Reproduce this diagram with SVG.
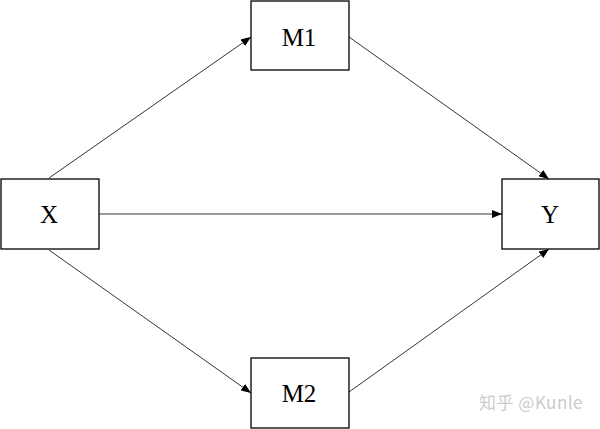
<svg xmlns="http://www.w3.org/2000/svg" width="600" height="429" viewBox="0 0 600 429">
<style>
.box{fill:#fff;stroke:#000;stroke-width:1.3}
.lbl{font-family:"Liberation Serif","Times New Roman",serif;font-size:25px;fill:#000;text-anchor:middle;dominant-baseline:central}
.edge{stroke:#000;stroke-width:0.8;fill:none;marker-end:url(#ah)}
.wm{font-family:"Noto Sans CJK SC","Noto Sans",sans-serif;font-size:17px;fill:#cbcbcb;letter-spacing:0.5px}
</style>
<defs>
<marker id="ah" viewBox="0 0 10 8" refX="10" refY="4" markerWidth="10" markerHeight="8" markerUnits="userSpaceOnUse" orient="auto">
<path d="M0,0 L10,4 L0,8 Z" fill="#000"/>
</marker>
</defs>
<rect width="600" height="429" fill="#fff"/>
<g id="connectors">
<line class="edge" x1="49" y1="178" x2="251" y2="37"/>
<line class="edge" x1="349" y1="37" x2="549" y2="179"/>
<line class="edge" x1="99" y1="214" x2="502" y2="214"/>
<line class="edge" x1="49" y1="250" x2="251" y2="393"/>
<line class="edge" x1="349" y1="392" x2="549" y2="249"/>
</g>
<g id="M1"><rect class="box" x="251" y="1" width="98" height="69"/><text class="lbl" x="299" y="37">M1</text></g>
<g id="X"><rect class="box" x="1" y="179" width="98" height="70"/><text class="lbl" x="49" y="214">X</text></g>
<g id="Y"><rect class="box" x="502" y="179" width="97" height="70"/><text class="lbl" x="550" y="214">Y</text></g>
<g id="M2"><rect class="box" x="251" y="358" width="98" height="70"/><text class="lbl" x="299" y="393">M2</text></g>
<text class="wm" x="479" y="409">知乎 @Kunle</text>
</svg>
